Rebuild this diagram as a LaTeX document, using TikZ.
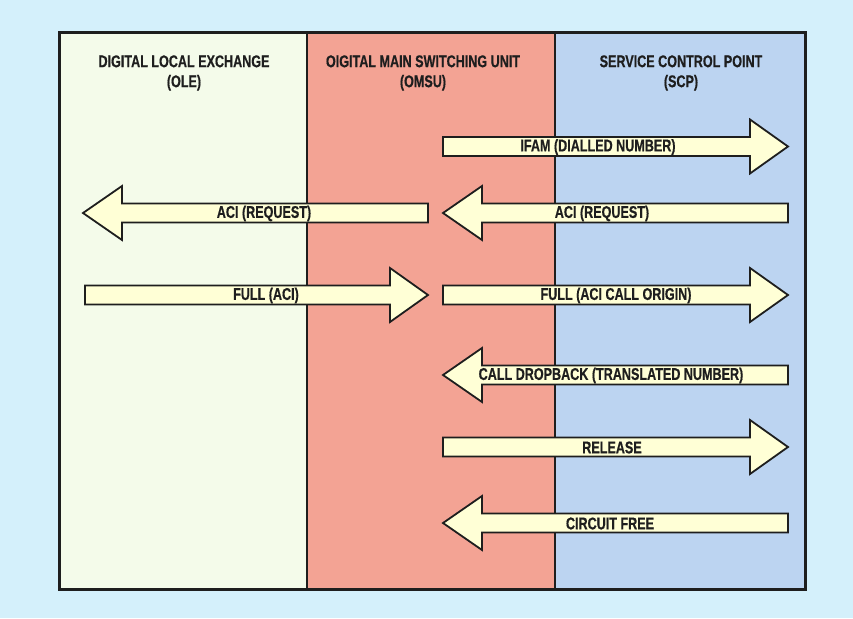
\documentclass[tikz,border=0pt]{standalone}
\usepackage{fontspec}
\setmainfont{Liberation Sans}[FakeStretch=0.74, BoldFeatures={FakeBold=0.5}]
\usetikzlibrary{calc}

\definecolor{pagebg}{RGB}{212,240,251}
\definecolor{olecol}{RGB}{244,251,234}
\definecolor{omsucol}{RGB}{243,163,148}
\definecolor{scpcol}{RGB}{188,212,241}
\definecolor{arrowfill}{RGB}{255,255,214}
\definecolor{ink}{RGB}{30,30,30}

\tikzset{
  column/.style={draw=ink, line width=2pt},
  frame/.style={draw=ink, line width=3pt},
  blockarrow/.style={fill=arrowfill, draw=ink, line width=1.8pt, line join=miter},
  heading/.style={font=\fontsize{17}{20}\selectfont\bfseries, text=ink, align=center, inner sep=0pt},
  msg/.style={font=\fontsize{17}{18}\selectfont\bfseries, text=ink, inner sep=0pt}
}

% block arrow pointing right: #1 tail x, #2 tip x, #3 centre y
\newcommand\blockright[3]{%
  \filldraw[blockarrow] (#1,#3-9.5) -- (#2-38,#3-9.5) -- (#2-38,#3-27) -- (#2,#3)
    -- (#2-38,#3+27) -- (#2-38,#3+9.5) -- (#1,#3+9.5) -- cycle;}
% block arrow pointing left: #1 tip x, #2 tail x, #3 centre y
\newcommand\blockleft[3]{%
  \filldraw[blockarrow] (#2,#3-9.5) -- (#1+39,#3-9.5) -- (#1+39,#3-27) -- (#1,#3)
    -- (#1+39,#3+27) -- (#1+39,#3+9.5) -- (#2,#3+9.5) -- cycle;}

\begin{document}
\begin{tikzpicture}[x=1pt, y=-1pt]
  \useasboundingbox (0,0) rectangle (853,618);
  \fill[pagebg] (0,0) rectangle (853,618);

  % the three columns
  \fill[olecol]  (59,33)  rectangle (307,589);
  \fill[omsucol] (307,33) rectangle (555,589);
  \fill[scpcol]  (555,33) rectangle (805,589);
  \draw[column] (307,33) -- (307,589);
  \draw[column] (555,33) -- (555,589);
  \draw[frame] (59,33) rectangle (805,589);

  % column headings
  \node[heading] (ole)  at (184,73) {DIGITAL LOCAL EXCHANGE\\(OLE)};
  \node[heading] (omsu) at (423,73) {OIGITAL MAIN SWITCHING UNIT\\(OMSU)};
  \node[heading] (scp)  at (681,73) {SERVICE CONTROL POINT\\(SCP)};

  % message flow
  \blockright{443}{788}{146.5}
  \node[msg] (ifam) at (598,147) {IFAM (DIALLED NUMBER)};

  \blockleft{83}{428}{213}
  \node[msg] (acil) at (264,213.5) {ACI (REQUEST)};
  \blockleft{443}{788}{213}
  \node[msg] (acir) at (602,213.5) {ACI (REQUEST)};

  \blockright{85}{428}{295}
  \node[msg] (fulll) at (266,295.5) {FULL (ACI)};
  \blockright{443}{788}{295}
  \node[msg] (fullr) at (616,295.5) {FULL (ACI CALL ORIGIN)};

  \blockleft{443}{788}{375}
  \node[msg] (drop) at (611,375.5) {CALL DROPBACK (TRANSLATED NUMBER)};

  \blockright{443}{788}{447}
  \node[msg] (rel) at (612,447.5) {RELEASE};

  \blockleft{443}{788}{523}
  \node[msg] (free) at (610,523.5) {CIRCUIT FREE};
\end{tikzpicture}
\end{document}
